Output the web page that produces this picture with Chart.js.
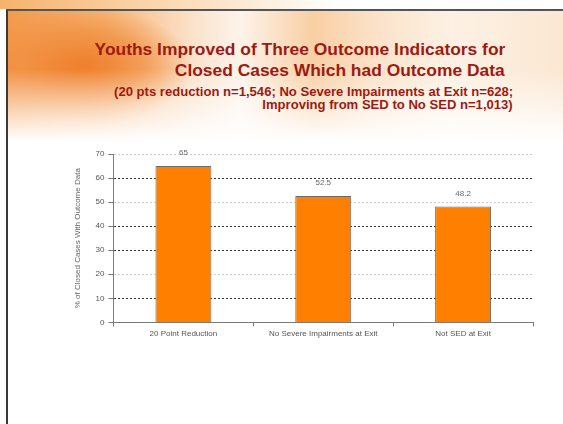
<!DOCTYPE html>
<html>
<head>
<meta charset="utf-8">
<script src="https://cdn.jsdelivr.net/npm/chart.js@4/dist/chart.umd.min.js"></script>
<style>
  html, body { margin: 0; padding: 0; background: #fff; }
  #page { position: relative; width: 563px; height: 424px; overflow: hidden; font-family: "Liberation Sans", Arial, sans-serif; }
  #topstrip { position: absolute; left: 0; top: 0; width: 563px; height: 9px;
    background: linear-gradient(to right, #f6b26b 0%, #fbd9b4 30%, #ffffff 60%, #ffffff 100%); }
  #frame { position: absolute; left: 6px; top: 9px; width: 570px; height: 430px;
    border-left: 2px solid #3a3a3a; border-top: 2px solid #555; }
  #glow { position: absolute; left: 8px; top: 11px; width: 555px; height: 130px;
    background:
      linear-gradient(to bottom, rgba(255,255,255,0) 0%, rgba(255,255,255,0) 45%, #fff 100%),
      radial-gradient(ellipse 110px 60px at 75px 55px, #ef7f2c 0%, rgba(240,140,60,0.7) 55%, rgba(245,170,100,0) 100%),
      linear-gradient(to right, #f39a4c 0%, #f7b77a 18%, #fbe4cf 34%, #fdf3ea 42%, #f9cfa4 55%, #fbe2c8 66%, #fdf1e4 80%, #fbe7d2 100%);
  }
  .t { position: absolute; color: #9c1b12; font-weight: bold; white-space: nowrap; text-align: right; transform-origin: right center; }
  .big { font-size: 16.5px; right: 58px; transform: scaleX(1.055); }
  .small { font-size: 12px; right: 50px; transform: scaleX(1.09); }
  #chartBox { position: absolute; left: 0; top: 130px; width: 563px; height: 220px; }
</style>
</head>
<body>
<div id="page">
  <div id="topstrip"></div>
  <div id="glow"></div>
  <div id="frame"></div>
  <div class="t big" style="top:40px">Youths Improved of Three Outcome Indicators for</div>
  <div class="t big" style="top:61px">Closed Cases Which had Outcome Data</div>
  <div class="t small" style="top:85px">(20 pts reduction n=1,546; No Severe Impairments at Exit n=628;</div>
  <div class="t small" style="top:98px">Improving from SED to No SED n=1,013)</div>
  <div id="chartBox"><canvas id="outcomeChart" width="563" height="220"></canvas></div>
</div>
<script>
const categories = ['20 Point Reduction', 'No Severe Impairments at Exit', 'Not SED at Exit'];
const percentImproved = [65, 52.5, 48.2];
const yTicks = [0, 10, 20, 30, 40, 50, 60, 70];

// labels above each bar
const valueLabels = {
  id: 'valueLabels',
  afterDatasetsDraw(chart) {
    const ctx = chart.ctx;
    const meta = chart.getDatasetMeta(0);
    ctx.save();
    ctx.font = '8px "Liberation Sans", Arial, sans-serif';
    ctx.fillStyle = '#666';
    ctx.textAlign = 'center';
    ctx.textBaseline = 'middle';
    meta.data.forEach((bar, i) => {
      ctx.fillText(String(percentImproved[i]), bar.x, bar.y - 13);
    });
    ctx.restore();
  }
};

const ctxOutcome = document.getElementById('outcomeChart').getContext('2d');
new Chart(ctxOutcome, {
    type: 'bar',
    data: {
        labels: categories,
        datasets: [{
            label: '% of Closed Cases With Outcome Data',
            data: percentImproved,
            backgroundColor: '#ff8000',
            borderColor: '#6b6b6b',
            borderWidth: 1,
            barPercentage: 0.4,
            categoryPercentage: 1.0
        }]
    },
    options: {
        responsive: false,
        animation: false,
        devicePixelRatio: 1,
        layout: { padding: { left: 69, right: 30, top: 24, bottom: 8 } },
        plugins: { legend: { display: false }, tooltip: { enabled: false } },
        scales: {
            x: {
                grid: { drawOnChartArea: false, tickLength: 4, color: '#777', offset: true },
                border: { color: '#7a7a7a', width: 1 },
                ticks: { color: '#555', maxRotation: 0, autoSkip: false, font: { size: 8, family: '"Liberation Sans", Arial, sans-serif' }, padding: 3 }
            },
            y: {
                min: 0,
                max: 70,
                afterBuildTicks(scale) { scale.ticks = yTicks.map(v => ({ value: v })); },
                grid: {
                    color: ctx => [20, 50, 70].includes(ctx.tick.value) ? '#d0d0d0' : '#333',
                    tickColor: '#777',
                    tickLength: 5,
                    lineWidth: 1
                },
                border: { color: '#7a7a7a', width: 1, dash: [2, 2] },
                ticks: { color: '#555', font: { size: 8, family: '"Liberation Sans", Arial, sans-serif' }, padding: 4 },
                title: {
                    display: true,
                    text: '% of Closed Cases With Outcome Data',
                    color: '#666',
                    font: { size: 8, family: '"Liberation Sans", Arial, sans-serif' },
                    padding: { top: 4, bottom: 9 }
                }
            }
        }
    },
    plugins: [valueLabels]
});
</script>
</body>
</html>
